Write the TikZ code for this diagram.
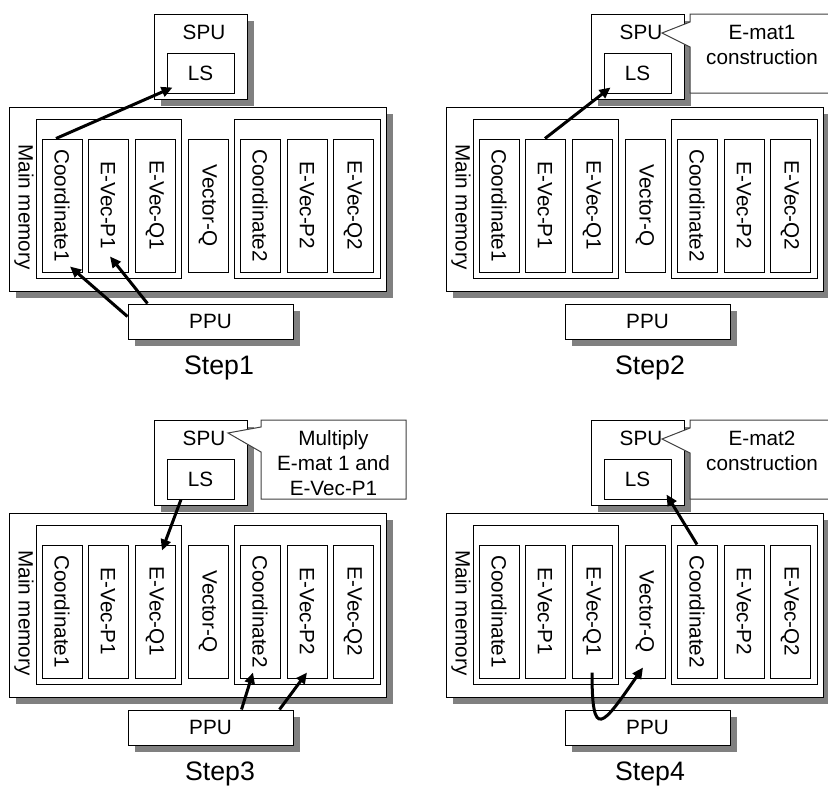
\documentclass[tikz,border=0pt]{standalone}
\usepackage{fontspec}
\setmainfont{Liberation Sans}
\usetikzlibrary{shadows,arrows.meta,calc}

% One memory/processor layout; #1 = name prefix, #2 = caption, #3 = caption x
\newcommand\drawpanel[3]{%
  \node[shbox, minimum width=93pt, minimum height=85pt] (#1spu) at (200.5,56.5) {};
  \node[txt, anchor=base] (#1spulbl) at (204,39) {SPU};
  \node[box, minimum width=67pt, minimum height=40pt] (#1ls) at (200.5,73) {LS};
  \node[shbox, minimum width=377pt, minimum height=184pt] (#1mm) at (197.5,199) {};
  \node[txt] (#1mmlbl) at (24,207) {\rotatebox{-90}{Main memory}};
  \node[box, minimum width=145pt, minimum height=159pt] (#1ga) at (108.5,198.5) {};
  \node[box, minimum width=146pt, minimum height=159pt] (#1gb) at (307,198.5) {};
  \node[col] (#1c1) at (62,205.5) {\rotatebox{-90}{Coordinate1}};
  \node[col] (#1p1) at (108,205.5) {\rotatebox{-90}{E-Vec-P1}};
  \node[col] (#1q1) at (155,205.5) {\rotatebox{-90}{E-Vec-Q1}};
  \node[col] (#1vq) at (208,205.5) {\rotatebox{-90}{Vector-Q}};
  \node[col] (#1c2) at (260,205.5) {\rotatebox{-90}{Coordinate2}};
  \node[col] (#1p2) at (307,205.5) {\rotatebox{-90}{E-Vec-P2}};
  \node[col] (#1q2) at (353,205.5) {\rotatebox{-90}{E-Vec-Q2}};
  \node[shbox, minimum width=165pt, minimum height=35pt] (#1ppu) at (210.5,321.5) {PPU};
  \node[steplbl] (#1step) at (#3,374) {#2};
}

\begin{document}
\begin{tikzpicture}[x=1pt,y=-1pt,
  txt/.style={font=\fontsize{20.7}{25}\selectfont},
  box/.style={draw=black, line width=1pt, fill=white, inner sep=0pt, txt},
  shbox/.style={box, drop shadow={shadow xshift=7pt, shadow yshift=-7pt,
      fill=black!50, opacity=1}},
  col/.style={box, minimum width=40pt, minimum height=133pt},
  arr/.style={line width=3pt, -{Triangle[length=11pt,width=10pt]}},
  callout/.style={draw=black!75, line width=1pt, fill=white},
  steplbl/.style={font=\fontsize{26.7}{32}\selectfont, anchor=base},
]
\path[use as bounding box] (0,0) rectangle (828,787);
\clip (0,0) rectangle (828,787);

% Step 1: PPU loads coordinates, SPU fetches them
\begin{scope}
  \drawpanel{A}{Step1}{219}
  \draw[arr] ([xshift=-6pt]Ac1.north) -- ([shift={(6pt,6pt)}]Als.south west);
  \draw[arr] ([yshift=5pt]Appu.west) -- ([shift={(8pt,6pt)}]Ac1.south);
  \draw[arr] ([xshift=20pt]Appu.north west) -- ([shift={(2pt,16pt)}]Ap1.south);
\end{scope}

% Step 2: E-mat1 construction
\begin{scope}[shift={(437,0)}]
  \drawpanel{B}{Step2}{213}
  \draw[callout] (253,14) -- (253,22) -- (225,33) -- (253,47) -- (253,93)
    -- (440,93) -- (440,14) -- cycle;
  \node[txt, align=center] (Bnote) at (325,44.5) {E-mat1\\construction};
  \draw[arr] (Bp1.north) -- ([shift={(7pt,6pt)}]Bls.south west);
\end{scope}

% Step 3: multiply E-mat 1 and E-Vec-P1
\begin{scope}[shift={(0,406)}]
  \drawpanel{C}{Step3}{220}
  \draw[callout] (261,14) -- (261,21) -- (228,27) -- (261,46) -- (261,93)
    -- (406,93) -- (406,14) -- cycle;
  \node[txt, align=center] (Cnote) at (333.5,57) {Multiply\\E-mat 1 and\\E-Vec-P1};
  \draw[arr] ([xshift=-19.5pt]Cls.south) -- ([shift={(7pt,-6pt)}]Cq1.north);
  \draw[arr] ([xshift=114pt]Cppu.north west) -- ([shift={(-7pt,6pt)}]Cc2.south);
  \draw[arr] ([xshift=152pt]Cppu.north west) -- ([yshift=6pt]Cp2.south);
\end{scope}

% Step 4: E-mat2 construction
\begin{scope}[shift={(437,406)}]
  \drawpanel{D}{Step4}{213}
  \draw[callout] (253,14) -- (253,22) -- (225,33) -- (253,47) -- (253,93)
    -- (440,93) -- (440,14) -- cycle;
  \node[txt, align=center] (Dnote) at (325,44.5) {E-mat2\\construction};
  \draw[arr] (Dc2.north) -- ([shift={(-5pt,5pt)}]Dls.south east);
  \draw[arr] ([yshift=6pt]Dq1.south) .. controls +(0,69) and +(-41,59)
    .. ([shift={(-2pt,11pt)}]Dvq.south);
\end{scope}
\end{tikzpicture}
\end{document}
